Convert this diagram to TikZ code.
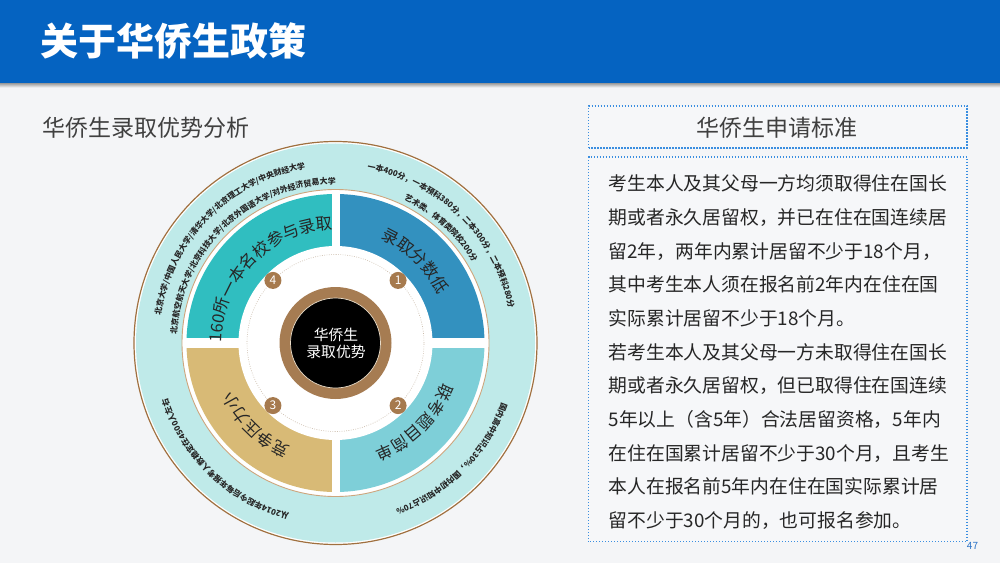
\documentclass[tikz,border=0pt]{standalone}
\usepackage{fontspec}
\setmainfont{Noto Sans CJK SC}
\usetikzlibrary{decorations.text,calc}
\definecolor{bgcol}{HTML}{F4F5F7}
\definecolor{boxcol}{HTML}{F6F7F9}
\definecolor{barblue}{HTML}{0563C1}
\definecolor{dotblue}{HTML}{3A8EE0}
\definecolor{ringcyan}{HTML}{BFEAE9}
\definecolor{ringbrown}{HTML}{A0703F}
\definecolor{thinbrown}{HTML}{CDA57D}
\definecolor{segteal}{HTML}{30BEC0}
\definecolor{segblue}{HTML}{3391BF}
\definecolor{seglight}{HTML}{7ECFD8}
\definecolor{seggold}{HTML}{D8BA76}
\definecolor{badgebrown}{HTML}{A67A4E}
\definecolor{centerbrown}{HTML}{A67C52}
\definecolor{creamline}{HTML}{E9DCC8}
\definecolor{dotgray}{HTML}{CBBBAA}
\definecolor{txtdark}{HTML}{262626}
\definecolor{txtgray}{HTML}{404040}
\definecolor{pageblue}{HTML}{2E75C8}
\newcommand\smallfmt{\color{txtdark}\fontsize{8}{9}\selectfont\bfseries}
\newcommand\segfmt{\color{txtdark}\fontsize{16.5}{18}\selectfont}
\newcommand\arcline[4]{%
  \path[shift={(C)},decorate,decoration={text along path,text align=center,text={|#3|#4}}]
    (#2+60:#1) arc[start angle=#2+60, end angle=#2-60, radius=#1];}
\tikzset{
  bodyline/.style={anchor=base west, inner sep=0pt, text=txtdark, font=\fontsize{18.8}{20}\selectfont},
  badge/.style={circle, fill=badgebrown, minimum size=17pt, inner sep=0pt, text=white, font=\fontsize{12}{12}\selectfont},
  dotbox/.style={draw=dotblue, line width=1.2pt, dash pattern=on 1.2pt off 1.8pt, fill=boxcol},
}
\begin{document}
\begin{tikzpicture}[x=1pt,y=1pt]
\useasboundingbox (0,0) rectangle (1000,563);
\fill[bgcol] (0,0) rectangle (1000,563);
% title bar
\shade[top color=black!40, bottom color=bgcol] (0,475.5) rectangle (1000,480);
\fill[barblue] (0,480) rectangle (1000,563);
\node[anchor=base west, inner sep=0pt, text=white, font=\fontsize{38}{40}\selectfont\bfseries] (title) at (40.5,507.1) {关于华侨生政策};
\node[anchor=base west, inner sep=0pt, text=txtgray, font=\fontsize{23}{25}\selectfont] (sub) at (42.4,426.8) {华侨生录取优势分析};
% right panel
\path[dotbox] (588.5,415) rectangle (967,457);
\path[dotbox] (588.5,21.3) rectangle (967,406);
\node[anchor=base, inner sep=0pt, text=txtgray, font=\fontsize{23}{25}\selectfont] (hdr) at (776.7,426) {华侨生申请标准};
\node[bodyline] (l1) at (608.5,372.4) {考生本人及其父母一方均须取得住在国长};
\node[bodyline] (l2) at (608.5,338.7) {期或者永久居留权，并已在住在国连续居};
\node[bodyline] (l3) at (608.5,305.0) {留2年，两年内累计居留不少于18个月，};
\node[bodyline] (l4) at (608.5,271.3) {其中考生本人须在报名前2年内在住在国};
\node[bodyline] (l5) at (608.5,237.6) {实际累计居留不少于18个月。};
\node[bodyline] (l6) at (608.5,203.9) {若考生本人及其父母一方未取得住在国长};
\node[bodyline] (l7) at (608.5,170.2) {期或者永久居留权，但已取得住在国连续};
\node[bodyline] (l8) at (608.5,136.5) {5年以上（含5年）合法居留资格，5年内};
\node[bodyline] (l9) at (608.5,102.8) {在住在国累计居留不少于30个月，且考生};
\node[bodyline] (l10) at (608.5,69.1) {本人在报名前5年内在住在国实际累计居};
\node[bodyline] (l11) at (608.5,35.4) {留不少于30个月的，也可报名参加。};
\node[text=pageblue, font=\fontsize{10}{10}\selectfont, inner sep=0pt] (pg) at (972.5,17) {47};
% circle diagram
\coordinate (C) at (335.5,220);
\draw[ringbrown, line width=1.2pt, fill=white] (C) circle[radius=201.5];
\fill[ringcyan] (C) circle[radius=199.5];
\draw[thinbrown, line width=0.9pt, fill=white] (C) circle[radius=153.5];
\fill[segteal] (C) -- ++(90:149) arc[start angle=90, end angle=180, radius=149] -- cycle;
\fill[segblue] (C) -- ++(0:149) arc[start angle=0, end angle=90, radius=149] -- cycle;
\fill[seglight] (C) -- ++(270:149) arc[start angle=270, end angle=360, radius=149] -- cycle;
\fill[seggold] (C) -- ++(180:149) arc[start angle=180, end angle=270, radius=149] -- cycle;
\fill[white, shift={(C)}] (-150,-4.9) rectangle (150,4.9);
\fill[white, shift={(C)}] (-4,-150) rectangle (4,150);
\fill[white] (C) circle[radius=97];
\draw[dotgray, line width=0.6pt, dash pattern=on 0.8pt off 1.5pt] (C) circle[radius=88.5];
\node[badge] (b1) at ($(C)+(45:88.5)$) {1};
\node[badge] (b2) at ($(C)+(-45:88.5)$) {2};
\node[badge] (b3) at ($(C)+(225:88.5)$) {3};
\node[badge] (b4) at ($(C)+(135:88.5)$) {4};
\fill[centerbrown] (C) circle[radius=56];
\draw[creamline, line width=0.7pt, fill=black] (C) circle[radius=45];
\node[anchor=base, inner sep=0pt, text=white, font=\fontsize{14.8}{16}\selectfont] (c1) at (336,222.4) {华侨生};
\node[anchor=base, inner sep=0pt, text=white, font=\fontsize{14.8}{16}\selectfont] (c2) at (336,205.7) {录取优势};
% segment texts
\arcline{113.7}{135.5}{\segfmt}{160所一本名校参与录取}
\arcline{113.7}{45.8}{\segfmt}{录取分数低}
\arcline{113.7}{-45.25}{\segfmt}{联考题目简单}
\arcline{113.7}{225.8}{\segfmt}{竞争压力小}
% outer ring texts
\arcline{177}{135.4}{\smallfmt}{北京大学/中国人民大学/清华大学/北京理工大学/中央财经大学}
\arcline{159}{133.35}{\smallfmt}{北京航空航天大学/北京科技大学/北京外国语大学/对外经济贸易大学}
\arcline{176.5}{45.5}{\smallfmt}{一本400分，一本预科380分，二本300分，二本预科280分}
\arcline{159}{47.45}{\smallfmt}{艺术类、体育类院校200分}
\arcline{176.5}{-44.85}{\smallfmt}{国内高中知识占30{\%}，国内初中知识占70{\%}}
\arcline{177}{226.55}{\smallfmt}{从2014年起今后每年报考人数稳定在4500人左右}
\end{tikzpicture}
\end{document}
